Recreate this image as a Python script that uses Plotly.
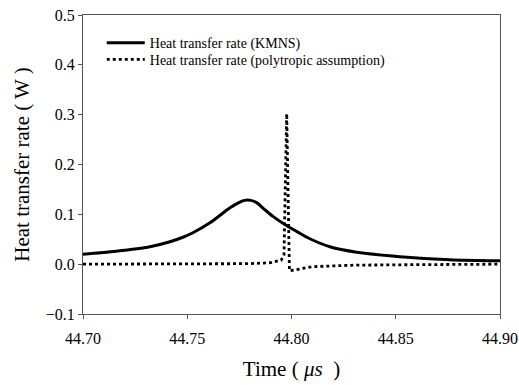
import plotly.graph_objects as go

# KMNS heat transfer rate (solid)
t_kmns = [44.700, 44.7158, 44.7321, 44.7417, 44.7479, 44.7527, 44.7609, 44.7705, 44.7745,
          44.7775, 44.7805, 44.7834, 44.7870, 44.7911, 44.7978, 44.8040, 44.8088, 44.8184,
          44.8313, 44.8520, 44.876, 44.900]
q_kmns = [0.020, 0.026, 0.035, 0.045, 0.054, 0.063, 0.083, 0.113, 0.123,
          0.128, 0.128, 0.123, 0.110, 0.096, 0.077, 0.062, 0.051, 0.035,
          0.024, 0.015, 0.009, 0.007]

# Polytropic assumption (dotted)
t_poly = [44.700, 44.740, 44.780, 44.790, 44.795, 44.7964, 44.7977, 44.7990,
          44.801, 44.810, 44.830, 44.860, 44.900]
q_poly = [0.0, 0.0, 0.001, 0.003, 0.008, 0.018, 0.302, -0.013,
          -0.012, -0.005, -0.002, -0.001, 0.0]

x_ticks = [44.70, 44.75, 44.80, 44.85, 44.90]
y_ticks = [-0.1, 0.0, 0.1, 0.2, 0.3, 0.4, 0.5]

font = "Liberation Serif, Times New Roman, serif"

fig = go.Figure()
fig.add_trace(go.Scatter(x=t_kmns, y=q_kmns, mode="lines",
                         line=dict(color="black", width=3, shape="spline", smoothing=0.8),
                         name="Heat transfer rate (KMNS)", legend="legend"))
fig.add_trace(go.Scatter(x=t_poly, y=q_poly, mode="lines",
                         line=dict(color="black", width=2.8, dash="dot"),
                         name="Heat transfer rate (polytropic assumption)", legend="legend2"))

axis_common = dict(showline=True, linecolor="#555", linewidth=1, mirror=True,
                   ticks="outside", tickcolor="#555", ticklen=4, showgrid=False,
                   zeroline=False, automargin=False,
                   tickfont=dict(family=font, size=16, color="black"))

legend_common = dict(xanchor="left", yanchor="middle", x=0.045, itemwidth=38,
                     font=dict(family=font, size=14, color="black"),
                     bgcolor="rgba(0,0,0,0)", borderwidth=0)

fig.update_layout(
    width=519, height=385,
    margin=dict(l=83, r=19, t=15, b=71),
    paper_bgcolor="white", plot_bgcolor="white",
    font=dict(family=font, color="black"),
    showlegend=True,
    legend=dict(y=0.906, **legend_common),
    legend2=dict(y=0.850, **legend_common),
    xaxis=dict(range=[44.70, 44.90], tickvals=x_ticks, tickformat=".2f",
               ticklabelstandoff=6,
               title=dict(text="Time ( <i>μs</i>  )", font=dict(family=font, size=21), standoff=15),
               **axis_common),
    yaxis=dict(range=[-0.1, 0.5], tickvals=y_ticks, tickformat=".1f",
               title=dict(text="Heat transfer rate ( W )", font=dict(family=font, size=21), standoff=10),
               **axis_common),
)

fig.write_html("out.html")
